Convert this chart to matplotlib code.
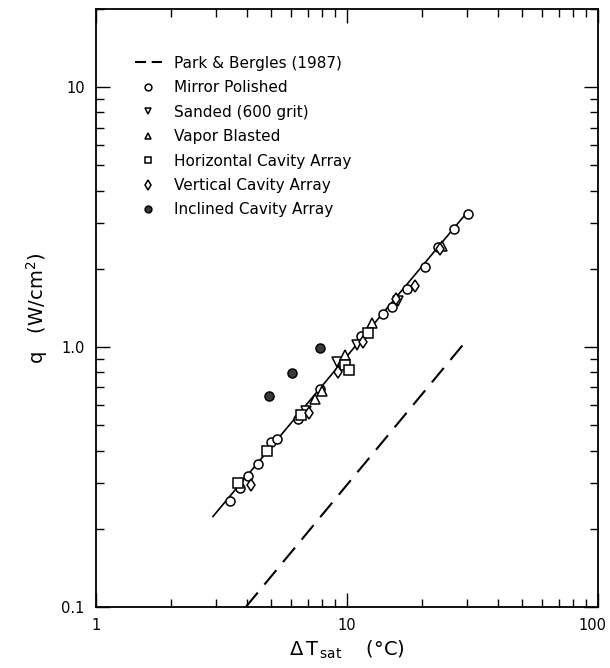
import matplotlib
matplotlib.use("Agg")
import matplotlib.pyplot as plt
from matplotlib.lines import Line2D
from matplotlib.transforms import ScaledTranslation
from matplotlib.ticker import LogLocator, FixedLocator, FixedFormatter, NullFormatter

# Park & Bergles (1987) correlation, end points of the dashed line
pb_dT = [3.96, 29.0]
pb_q = [0.10, 1.02]

# Fitted curve through the present data
fit_dT = [2.93, 30.3]
fit_q = [0.223, 3.32]

# Measured data, one pair of lists per surface
mirror_dT = [3.42, 3.75, 4.04, 4.41, 5.01, 5.28, 6.40, 7.80, 9.5, 11.4, 13.9, 15.1, 17.3, 20.5, 23.1, 26.8, 30.3]
mirror_q = [0.255, 0.288, 0.32, 0.355, 0.432, 0.442, 0.528, 0.692, 0.88, 1.10, 1.34, 1.43, 1.68, 2.03, 2.42, 2.84, 3.24]

sanded_dT = [6.9, 9.1, 11.0, 16.0]
sanded_q = [0.57, 0.88, 1.02, 1.50]

vapor_dT = [7.5, 8.0, 9.8, 12.6, 24.0]
vapor_q = [0.63, 0.68, 0.93, 1.24, 2.45]

horiz_dT = [3.69, 4.81, 6.6, 9.8, 10.2, 12.2]
horiz_q = [0.30, 0.40, 0.547, 0.85, 0.82, 1.13]

vert_dT = [4.17, 7.1, 9.22, 11.6, 15.7, 18.7, 23.5]
vert_q = [0.295, 0.56, 0.80, 1.045, 1.53, 1.72, 2.38]

incl_dT = [4.90, 6.04, 7.85]
incl_q = [0.649, 0.797, 0.994]

x_ticks = [1, 10, 100]
x_labels = ["1", "10", "100"]
y_ticks = [0.1, 1.0, 10]
y_labels = ["0.1", "1.0", "10"]

plt.rcParams["font.family"] = ["DejaVu Sans"]

fig = plt.figure(figsize=(6.10, 6.68), dpi=100)
ax = fig.add_axes([0.157, 0.0913, 0.823, 0.8952])

ax.set_xscale("log")
ax.set_yscale("log")
ax.set_xlim(1, 100)
ax.set_ylim(0.1, 20)

ax.plot(pb_dT, pb_q, color="black", lw=1.5, dashes=(9, 5))
ax.plot(fit_dT, fit_q, color="black", lw=1.2, zorder=2)

ms = 6.5
mk = dict(linestyle="none", markerfacecolor="white", markeredgecolor="black",
          markeredgewidth=1.1, markersize=ms, zorder=3)
h_mirror, = ax.plot(mirror_dT, mirror_q, marker="o", label="Mirror Polished", **mk)
h_sanded, = ax.plot(sanded_dT, sanded_q, marker="v", label="Sanded (600 grit)", **mk)
h_vapor, = ax.plot(vapor_dT, vapor_q, marker="^", label="Vapor Blasted", **mk)
h_horiz, = ax.plot(horiz_dT, horiz_q, marker="s", label="Horizontal Cavity Array", **mk)
h_vert, = ax.plot(vert_dT, vert_q, marker="d", label="Vertical Cavity Array", **mk)
h_incl, = ax.plot(incl_dT, incl_q, marker="o", linestyle="none", markerfacecolor="#3a3a3a",
                  markeredgecolor="black", markeredgewidth=1.1, markersize=ms, zorder=3,
                  label="Inclined Cavity Array")

# shorter dash pattern so the legend key shows two dashes
h_pb = Line2D([], [], color="black", lw=1.5, dashes=(5.3, 2.7), label="Park & Bergles (1987)")

ax.xaxis.set_major_locator(FixedLocator(x_ticks))
ax.xaxis.set_major_formatter(FixedFormatter(x_labels))
ax.yaxis.set_major_locator(FixedLocator(y_ticks))
ax.yaxis.set_major_formatter(FixedFormatter(y_labels))
ax.xaxis.set_minor_locator(LogLocator(base=10, subs=range(2, 10)))
ax.yaxis.set_minor_locator(LogLocator(base=10, subs=range(2, 10)))
ax.xaxis.set_minor_formatter(NullFormatter())
ax.yaxis.set_minor_formatter(NullFormatter())

ax.tick_params(which="both", direction="in", top=True, right=True, width=1.0)
ax.tick_params(which="major", length=10, labelsize=10.5, pad=8)
ax.tick_params(which="minor", length=6)
for s in ax.spines.values():
    s.set_linewidth(1.3)

# keep the rightmost x tick label inside the figure
fig.canvas.draw()
last = ax.get_xticklabels()[-1]
last.set_transform(last.get_transform() + ScaledTranslation(-5 / 100, 0, fig.dpi_scale_trans))

ax.set_xlabel(r"$\Delta\,\mathrm{T}_{\,\mathrm{sat}}$    ($\degree$C)", fontsize=14, labelpad=4)
ax.set_ylabel(r"q   (W/cm$^2$)", fontsize=14, labelpad=8)

leg = ax.legend(handles=[h_pb, h_mirror, h_sanded, h_vapor, h_horiz, h_vert, h_incl],
                loc="upper left", bbox_to_anchor=(0.05, 0.945), frameon=False,
                fontsize=11, handlelength=1.8, handletextpad=0.8,
                labelspacing=0.62, markerscale=0.75)

fig.savefig("out.png", dpi=100)
